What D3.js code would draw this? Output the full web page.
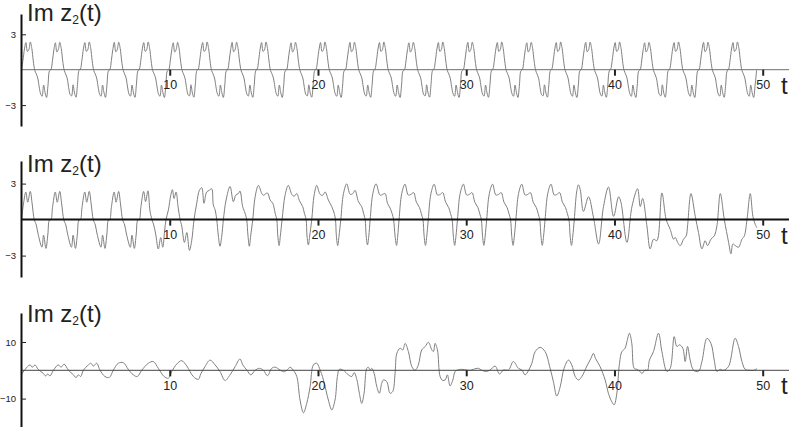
<!DOCTYPE html>
<html><head><meta charset="utf-8">
<script src="https://cdn.jsdelivr.net/npm/d3@7"></script>
<style>body{margin:0;background:#fff;}svg{display:block;}</style>
</head><body>
<svg id="c" width="789" height="427"></svg>
<script>
// ---------- data ----------
const tTicks = [10, 20, 30, 40, 50];
const topYTicks = [3, -3];
const midYTicks = [3, -3];
const botYTicks = [10, -10];
const titleMain = "Im z", titleSub = "2", titleEnd = "(t)";
const axisName = "t";

// top panel: uniform samples, step DT
const DT = 0.099375;
const topValues = [
 0.05,0.8,1.75,2.3,1.55,1.7,2.35,1.8,0.75,-0.05,-0.35,-0.7,-1.45,-2.05,-2.25,-1.3,-1.95,-2.35,-1.3,-0.1,
 0.0,0.75,1.7,2.28,1.5,1.72,2.32,1.78,0.72,-0.05,-0.38,-0.72,-1.5,-2.1,-2.22,-1.28,-1.98,-2.33,-1.25,-0.08,
 0.05,0.8,1.75,2.3,1.55,1.7,2.35,1.8,0.75,-0.05,-0.35,-0.7,-1.45,-2.05,-2.25,-1.3,-1.95,-2.35,-1.3,-0.1,
 0.02,0.78,1.72,2.32,1.52,1.7,2.33,1.8,0.74,-0.04,-0.36,-0.7,-1.47,-2.07,-2.24,-1.3,-1.96,-2.34,-1.28,-0.1,
 0.05,0.8,1.75,2.3,1.55,1.7,2.35,1.8,0.75,-0.05,-0.35,-0.7,-1.45,-2.05,-2.25,-1.3,-1.95,-2.35,-1.3,-0.1,
 0.0,0.75,1.7,2.28,1.5,1.72,2.32,1.78,0.72,-0.05,-0.38,-0.72,-1.5,-2.1,-2.22,-1.28,-1.98,-2.33,-1.25,-0.08,
 0.05,0.8,1.75,2.3,1.55,1.7,2.35,1.8,0.75,-0.05,-0.35,-0.7,-1.45,-2.05,-2.25,-1.3,-1.95,-2.35,-1.3,-0.1,
 0.02,0.78,1.72,2.32,1.52,1.7,2.33,1.8,0.74,-0.04,-0.36,-0.7,-1.47,-2.07,-2.24,-1.3,-1.96,-2.34,-1.28,-0.1,
 0.05,0.8,1.75,2.3,1.55,1.7,2.35,1.8,0.75,-0.05,-0.35,-0.7,-1.45,-2.05,-2.25,-1.3,-1.95,-2.35,-1.3,-0.1,
 0.0,0.75,1.7,2.28,1.5,1.72,2.32,1.78,0.72,-0.05,-0.38,-0.72,-1.5,-2.1,-2.22,-1.28,-1.98,-2.33,-1.25,-0.08,
 0.05,0.8,1.75,2.3,1.55,1.7,2.35,1.8,0.75,-0.05,-0.35,-0.7,-1.45,-2.05,-2.25,-1.3,-1.95,-2.35,-1.3,-0.1,
 0.02,0.78,1.72,2.32,1.52,1.7,2.33,1.8,0.74,-0.04,-0.36,-0.7,-1.47,-2.07,-2.24,-1.3,-1.96,-2.34,-1.28,-0.1,
 0.05,0.8,1.75,2.3,1.55,1.7,2.35,1.8,0.75,-0.05,-0.35,-0.7,-1.45,-2.05,-2.25,-1.3,-1.95,-2.35,-1.3,-0.1,
 0.0,0.75,1.7,2.28,1.5,1.72,2.32,1.78,0.72,-0.05,-0.38,-0.72,-1.5,-2.1,-2.22,-1.28,-1.98,-2.33,-1.25,-0.08,
 0.05,0.8,1.75,2.3,1.55,1.7,2.35,1.8,0.75,-0.05,-0.35,-0.7,-1.45,-2.05,-2.25,-1.3,-1.95,-2.35,-1.3,-0.1,
 0.02,0.78,1.72,2.32,1.52,1.7,2.33,1.8,0.74,-0.04,-0.36,-0.7,-1.47,-2.07,-2.24,-1.3,-1.96,-2.34,-1.28,-0.1,
 0.05,0.8,1.75,2.3,1.55,1.7,2.35,1.8,0.75,-0.05,-0.35,-0.7,-1.45,-2.05,-2.25,-1.3,-1.95,-2.35,-1.3,-0.1,
 0.0,0.75,1.7,2.28,1.5,1.72,2.32,1.78,0.72,-0.05,-0.38,-0.72,-1.5,-2.1,-2.22,-1.28,-1.98,-2.33,-1.25,-0.08,
 0.05,0.8,1.75,2.3,1.55,1.7,2.35,1.8,0.75,-0.05,-0.35,-0.7,-1.45,-2.05,-2.25,-1.3,-1.95,-2.35,-1.3,-0.1,
 0.02,0.78,1.72,2.32,1.52,1.7,2.33,1.8,0.74,-0.04,-0.36,-0.7,-1.47,-2.07,-2.24,-1.3,-1.96,-2.34,-1.28,-0.1,
 0.05,0.8,1.75,2.3,1.55,1.7,2.35,1.8,0.75,-0.05,-0.35,-0.7,-1.45,-2.05,-2.25,-1.3,-1.95,-2.35,-1.3,-0.1,
 0.0,0.75,1.7,2.28,1.5,1.72,2.32,1.78,0.72,-0.05,-0.38,-0.72,-1.5,-2.1,-2.22,-1.28,-1.98,-2.33,-1.25,-0.08,
 0.05,0.8,1.75,2.3,1.55,1.7,2.35,1.8,0.75,-0.05,-0.35,-0.7,-1.45,-2.05,-2.25,-1.3,-1.95,-2.35,-1.3,-0.1,
 0.02,0.78,1.72,2.32,1.52,1.7,2.33,1.8,0.74,-0.04,-0.36,-0.7,-1.47,-2.07,-2.24,-1.3,-1.96,-2.34,-1.28,-0.1,
 0.05,0.8,1.75,2.3,1.55,1.7,2.35,1.8,0.75,-0.05,-0.35,-0.7,-1.45,-2.05,-2.25,-1.3,-1.95,-2.35,-1.3,-0.05
];

// middle panel: [t, value] points
const midPoints = [
 [0.00,0.0],[0.10,1.0],[0.29,2.3],[0.42,1.45],[0.59,2.35],[0.72,1.3],[0.86,0.0],[1.00,-0.45],[1.12,-1.2],[1.38,-2.3],[1.49,-1.3],[1.65,-2.4],[1.78,-1.2],[1.88,-0.05],
 [1.99,0.0],[2.09,1.0],[2.28,2.3],[2.41,1.45],[2.58,2.35],[2.71,1.3],[2.85,0.0],[2.99,-0.45],[3.11,-1.2],[3.37,-2.3],[3.48,-1.3],[3.64,-2.4],[3.77,-1.2],[3.87,-0.05],
 [3.98,0.0],[4.08,1.0],[4.27,2.3],[4.40,1.45],[4.57,2.35],[4.70,1.3],[4.84,0.0],[4.98,-0.45],[5.10,-1.2],[5.36,-2.3],[5.47,-1.3],[5.63,-2.4],[5.76,-1.2],[5.86,-0.05],
 [5.96,0.0],[6.06,1.0],[6.25,2.3],[6.38,1.45],[6.55,2.35],[6.68,1.3],[6.82,0.0],[6.96,-0.45],[7.08,-1.2],[7.34,-2.3],[7.45,-1.3],[7.61,-2.4],[7.74,-1.2],[7.84,-0.05],
 [7.95,0.0],[8.05,1.0],[8.24,2.35],[8.37,1.5],[8.53,2.4],[8.67,0.7],[8.80,0.0],[8.92,-0.45],[9.05,-1.2],[9.23,-2.45],[9.39,-1.5],[9.53,-2.3],[9.65,-1.0],[9.75,0],
 [9.91,0.81],[10.07,2.03],[10.18,2.49],[10.29,1.76],[10.43,2.30],[10.56,1.08],[10.70,0],
 [10.81,-0.54],[10.99,-1.90],[11.15,-1.08],[11.33,-2.57],[11.48,-1.76],[11.64,0],
 [11.82,1.36],[12.00,2.44],[12.16,2.66],[12.31,1.36],[12.49,2.30],[12.67,2.44],[12.83,2.57],[12.94,1.22],[13.06,0.81],[13.17,0],
 [13.28,-1.36],[13.39,-2.22],[13.51,-1.36],[13.62,0],
 [13.80,1.63],[14.07,2.76],[14.29,1.49],[14.45,2.03],[14.63,2.17],[14.74,2.38],[14.92,1.08],[15.08,0.54],[15.19,0],
 [15.28,-1.36],[15.37,-2.22],[15.46,-1.36],[15.60,0],
 [15.76,1.90],[15.98,2.85],[16.21,2.17],[16.32,2.03],[16.59,2.22],[16.77,1.63],[16.95,1.36],[17.11,0.54],[17.22,0],
 [17.29,-1.36],[17.38,-2.17],[17.46,-1.36],[17.58,0],
 [17.78,2.03],[18.00,2.85],[18.23,2.11],[18.39,1.95],[18.57,2.17],[18.75,1.57],[18.97,1.08],[19.08,0.54],[19.20,0],
 [19.26,-1.36],[19.35,-2.11],[19.44,-1.36],[19.58,0],
 [19.74,2.03],[19.92,2.85],[20.14,2.11],[20.32,2.03],[20.48,2.30],[20.70,1.63],[20.93,1.08],[21.09,0.54],[21.18,0],
 [21.24,-1.36],[21.33,-2.17],[21.42,-1.36],[21.54,0],
 [21.72,2.17],[21.94,2.98],[22.17,2.11],[22.35,2.17],[22.50,2.44],[22.73,1.49],[22.95,1.08],[23.07,0.54],[23.18,0],
 [23.25,-1.36],[23.34,-2.11],[23.43,-1.36],[23.52,0],
 [23.70,2.17],[23.92,2.98],[24.19,2.03],[24.37,2.11],[24.53,2.17],[24.69,1.36],[24.87,0.95],[25.00,0.5],[25.10,0],
 [25.20,-1.36],[25.30,-2.15],[25.38,-1.36],[25.47,0],
 [25.65,2.17],[25.87,2.95],[26.09,2.05],[26.27,2.1],[26.45,2.25],[26.64,1.45],[26.85,1.0],[26.97,0.5],[27.08,0],[27.16,-1.36],[27.25,-2.15],[27.34,-1.36],[27.44,0],
 [27.62,2.17],[27.84,2.95],[28.06,2.05],[28.24,2.1],[28.42,2.25],[28.61,1.45],[28.82,1.0],[28.94,0.5],[29.05,0],[29.13,-1.36],[29.22,-2.15],[29.31,-1.36],[29.41,0],
 [29.59,2.17],[29.81,2.95],[30.03,2.05],[30.21,2.1],[30.39,2.25],[30.58,1.45],[30.79,1.0],[30.91,0.5],[31.02,0],[31.10,-1.36],[31.19,-2.15],[31.28,-1.36],[31.38,0],
 [31.56,2.17],[31.78,2.95],[32.00,2.05],[32.18,2.1],[32.36,2.25],[32.55,1.45],[32.76,1.0],[32.88,0.5],[32.99,0],[33.07,-1.36],[33.16,-2.15],[33.25,-1.36],[33.35,0],
 [33.53,2.17],[33.75,2.95],[33.97,2.05],[34.15,2.1],[34.33,2.25],[34.52,1.45],[34.73,1.0],[34.85,0.5],[34.96,0],[35.04,-1.36],[35.13,-2.15],[35.22,-1.36],[35.32,0],
 [35.50,2.17],[35.72,2.95],[35.94,2.05],[36.12,2.1],[36.30,2.25],[36.49,1.45],[36.70,1.0],[36.82,0.5],[36.93,0],[37.01,-1.36],[37.10,-2.15],[37.19,-1.36],[37.29,0],
 [37.45,2.3],[37.57,2.9],[37.69,2.5],[37.91,0.68],[38.25,1.90],[38.59,0.14],[38.93,-2.03],[39.26,1.08],[39.60,2.71],[39.94,0.27],
 [40.28,1.90],[40.43,1.49],[40.84,-1.90],[41.18,1.08],[41.56,2.57],[41.74,1.08],[41.90,1.76],[42.19,-0.54],[42.41,-2.44],[42.64,-1.63],
 [42.86,-1.76],[43.20,2.22],[43.49,0],[43.76,-0.81],[43.99,-1.63],[44.10,-1.49],[44.26,-1.90],[44.44,-2.17],[44.66,-1.63],[44.84,-1.36],
 [44.93,-0.54],[45.16,2.17],[45.45,0.27],[45.67,-1.08],[45.90,-2.44],[46.12,-1.76],[46.28,-2.17],[46.51,-1.63],[46.73,-1.36],[46.91,-0.54],
 [47.14,2.17],[47.41,0],[47.70,-1.90],[47.86,-2.85],[47.99,-2.03],[48.15,-2.17],[48.37,-2.30],[48.60,-1.63],[48.76,-1.36],[48.94,0],
 [49.16,2.17],[49.34,0.27],[49.50,-0.41],[49.61,-0.68]
];

// bottom panel: [t, value] points
const botPoints = [
 [0.00,-1.5],[0.24,0.3],[0.57,1.9],[0.73,1.1],[0.91,1.9],[1.13,0.3],[1.47,-1.1],[1.63,-2.0],[1.77,-1.3],[1.92,-2.0],
 [2.15,0],[2.48,1.9],[2.67,1.1],[2.87,2.2],[3.16,0.1],[3.50,-1.6],[3.68,-2.6],[3.83,-1.6],[3.99,-2.2],[4.17,0],
 [4.51,1.9],[4.67,2.5],[4.85,1.5],[5.07,2.5],[5.30,0],[5.63,-2.2],[5.93,-2.5],[6.19,0],[6.53,2.5],[6.87,2.7],
 [7.21,0.3],[7.54,-1.6],[7.81,-2.2],[8.11,0],[8.56,2.5],[8.89,3.1],[9.23,0.7],[9.62,-2.2],[9.91,-2.8],[10.13,-0.5],
 [10.47,2.2],[10.81,3.4],[11.15,1.5],[11.59,-2.2],[11.93,-3.2],[12.10,-1.2],[12.38,1.3],[12.72,3.6],[13.06,1.9],[13.39,-0.4],
 [13.73,-3.6],[14.07,-1.6],[14.41,1.3],[14.74,4.0],[14.93,1.9],[15.20,0.1],[15.47,-1.6],[15.76,0],[16.05,0.7],[16.32,0],
 [16.59,-1.9],[16.88,0.7],[17.11,1.1],[17.44,0.1],[17.67,-0.5],[17.90,0],[18.12,1.1],[18.34,0],[18.57,-2.2],[18.79,-10.5],
 [19.02,-15.0],[19.24,-11.7],[19.47,-5.8],[19.69,1.9],[19.92,2.5],[20.10,0.7],[20.37,-3.4],[20.70,-10.5],[20.93,-14.0],[21.15,-10.5],
 [21.31,-2.2],[21.44,0.35],[21.71,0],[22.05,-1.6],[22.28,-2.2],[22.44,-0.8],[22.62,-3.2],[22.79,-8.1],[22.95,-11.7],[23.11,-8.1],
 [23.29,0.7],[23.40,1.1],[23.52,0.1],[23.63,0.7],[23.79,-1.1],[23.97,-5.8],[24.14,-8.1],[24.30,-4.6],[24.41,-3.4],[24.64,-4.0],
 [24.86,-8.1],[25.04,-7.5],[25.20,-1.1],[25.32,6.0],[25.54,7.8],[25.72,7.2],[25.88,9.5],[26.10,6.6],[26.33,1.3],[26.55,0],
 [26.77,1.9],[27.00,7.2],[27.23,8.4],[27.45,9.9],[27.68,7.2],[27.79,6.6],[27.90,9.5],[28.06,7.2],[28.24,-2.2],[28.42,-3.6],
 [28.58,-3.4],[28.73,-1.6],[28.91,-5.5],[29.10,-3.4],[29.25,-0.4],[29.41,0.1],[29.70,0.35],[30.04,0.1],[30.26,0],[30.49,0.35],
 [30.82,0.7],[31.05,0],[31.34,-0.4],[31.61,0.1],[31.95,1.5],[32.24,-1.3],[32.51,0.1],[32.85,0.1],[33.18,3.1],[33.52,0.7],
 [33.75,0.1],[33.97,-1.6],[34.20,-0.1],[34.43,2.5],[34.65,6.6],[34.99,8.1],[35.32,6.6],[35.66,0.7],[35.88,-4.0],[36.11,-9.1],
 [36.34,-5.8],[36.60,0.7],[36.90,3.6],[37.12,1.9],[37.35,-2.2],[37.57,-3.4],[37.80,-2.2],[38.14,1.5],[38.41,4.2],[38.58,6.0],
 [38.72,4.2],[39.03,1.3],[39.37,-3.4],[39.59,-8.1],[39.82,-11.1],[39.98,-12.2],[40.16,-8.1],[40.34,2.5],[40.50,6.6],[40.72,7.8],
 [40.84,10.1],[41.01,13.1],[41.17,9.5],[41.33,0.7],[41.51,0.35],[41.73,-0.4],[41.85,-1.1],[42.07,0.1],[42.23,0],[42.36,3.6],
 [42.63,6.6],[42.97,13.1],[43.20,6.6],[43.54,-0.4],[43.76,0.7],[44.03,11.9],[44.21,8.4],[44.39,9.0],[44.61,7.8],[44.77,3.1],
 [44.93,8.4],[45.11,3.6],[45.33,0.1],[45.67,-0.4],[45.90,3.1],[46.24,11.3],[46.51,9.5],[46.73,3.6],[46.91,-0.4],[47.13,0.35],
 [47.35,0],[47.69,1.3],[48.14,11.3],[48.37,8.4],[48.60,3.1],[48.82,0.35],[49.16,0],[49.39,0],[49.62,0.6]
];

// ---------- drawing ----------
const FONT = '"Liberation Sans", Arial, Helvetica, sans-serif';
const svg = d3.select('#c');
const x = d3.scaleLinear().domain([0, 50]).range([21.5, 762.7]);

const panels = [
  {zero: 69.7, unit: 11.8, top: 14, bottom: 126, titleY: 20.7,
   ticks: topYTicks, pts: topValues.map((v, i) => [i * DT, v]),
   zeroColor: '#6e6e6e', zeroW: 1},
  {zero: 219.6, unit: 12.0, top: 161, bottom: 277, titleY: 171.7,
   ticks: midYTicks, pts: midPoints, zeroColor: '#111', zeroW: 2},
  {zero: 370.3, unit: 2.83, top: 313, bottom: 427, titleY: 322,
   ticks: botYTicks, pts: botPoints, zeroColor: '#444', zeroW: 1}
];

panels.forEach(p => {
  const y = d3.scaleLinear()
    .domain([(p.zero - p.bottom) / p.unit, (p.zero - p.top) / p.unit])
    .range([p.bottom, p.top]);
  const g = svg.append('g');

  const line = d3.line().x(d => x(d[0])).y(d => y(d[1])).curve(d3.curveCatmullRom.alpha(0.5));
  g.append('path').datum(p.pts).attr('d', line)
    .attr('fill', 'none').attr('stroke', '#808080').attr('stroke-width', 1);

  g.append('line').attr('x1', 21).attr('x2', 789)
    .attr('y1', y(0)).attr('y2', y(0))
    .attr('stroke', p.zeroColor).attr('stroke-width', p.zeroW);

  const xa = g.append('g').attr('transform', `translate(0,${y(0)})`)
    .call(d3.axisBottom(x).tickValues(tTicks).tickSize(6).tickPadding(4.6));
  xa.select('.domain').remove();
  xa.selectAll('.tick line').attr('stroke', '#222').attr('stroke-width', 2);
  xa.selectAll('.tick text').attr('font-size', 12.5).attr('font-family', FONT).attr('fill', '#222');

  const ya = g.append('g').attr('transform', 'translate(21,0)')
    .call(d3.axisLeft(y).tickValues(p.ticks).tickSizeInner(-5).tickSizeOuter(0).tickPadding(5));
  ya.select('.domain').attr('stroke', '#111').attr('stroke-width', 2);
  ya.selectAll('.tick line').attr('stroke', '#222').attr('stroke-width', 1);
  ya.selectAll('.tick text').attr('font-size', 9.5).attr('font-family', FONT).attr('fill', '#222');

  const t = svg.append('text').attr('x', 27).attr('y', p.titleY)
    .attr('font-size', 24).attr('font-family', FONT).attr('fill', '#222');
  t.append('tspan').text(titleMain);
  t.append('tspan').attr('font-size', 12).attr('dy', 3).text(titleSub);
  t.append('tspan').attr('dy', -3).text(titleEnd);

  svg.append('text').attr('x', 781).attr('y', y(0) + 24)
    .attr('font-size', 24).attr('font-family', FONT).attr('fill', '#222').text(axisName);
});
</script>
</body></html>
